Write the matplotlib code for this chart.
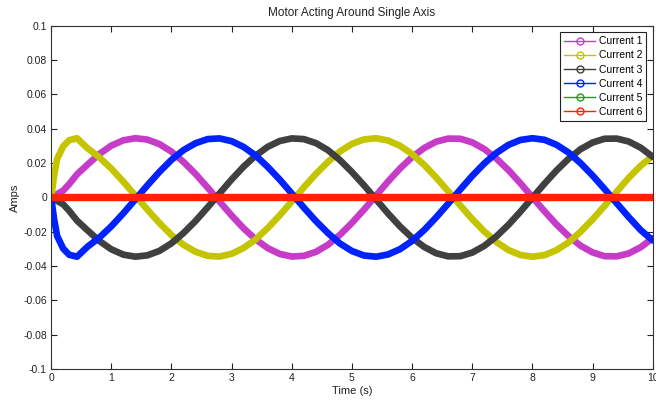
import matplotlib
matplotlib.use('Agg')
import matplotlib.pyplot as plt
from matplotlib.lines import Line2D
from matplotlib.ticker import FuncFormatter

# time samples (s), finer near the start-up transient
time = [0, 0.05, 0.1, 0.2, 0.3, 0.43,
        0.6, 0.8, 1.0, 1.2, 1.4, 1.6, 1.8, 2.0, 2.2, 2.4, 2.6, 2.8,
        3.0, 3.2, 3.4, 3.6, 3.8, 4.0, 4.2, 4.4, 4.6, 4.8, 5.0, 5.2,
        5.4, 5.6, 5.8, 6.0, 6.2, 6.4, 6.6, 6.8, 7.0, 7.2, 7.4, 7.6,
        7.8, 8.0, 8.2, 8.4, 8.6, 8.8, 9.0, 9.2, 9.4, 9.6, 9.8, 10.0]

current1 = [0, 0.0010, 0.0020, 0.0040, 0.0078, 0.0135,
            0.0190, 0.0253, 0.0302, 0.0333, 0.0345, 0.0337, 0.0311, 0.0267, 0.0207, 0.0137, 0.0058, -0.0024,
            -0.0105, -0.0180, -0.0244, -0.0295, -0.0329, -0.0344, -0.0340, -0.0317, -0.0276, -0.0218, -0.0148, -0.0071,
            0.0011, 0.0093, 0.0169, 0.0235, 0.0288, 0.0325, 0.0343, 0.0342, 0.0321, 0.0282, 0.0227, 0.0160,
            0.0083, 0.0001, -0.0080, -0.0157, -0.0225, -0.0281, -0.0320, -0.0342, -0.0343, -0.0326, -0.0290, -0.0237]

current2 = [0, 0.0130, 0.0225, 0.0298, 0.0334, 0.0345,
            0.0288, 0.0234, 0.0168, 0.0092, 0.0011, -0.0071, -0.0149, -0.0219, -0.0276, -0.0316, -0.0340, -0.0344,
            -0.0328, -0.0294, -0.0244, -0.0178, -0.0104, -0.0023, 0.0059, 0.0137, 0.0207, 0.0268, 0.0312, 0.0338,
            0.0345, 0.0332, 0.0301, 0.0253, 0.0190, 0.0116, 0.0036, -0.0046, -0.0126, -0.0198, -0.0259, -0.0306,
            -0.0335, -0.0345, -0.0336, -0.0307, -0.0262, -0.0200, -0.0128, -0.0049, 0.0033, 0.0114, 0.0185, 0.0242]

current3 = [0, -0.0010, -0.0020, -0.0040, -0.0078, -0.0135,
            -0.0190, -0.0253, -0.0302, -0.0333, -0.0345, -0.0337, -0.0311, -0.0267, -0.0207, -0.0137, -0.0058, 0.0024,
            0.0105, 0.0180, 0.0244, 0.0295, 0.0329, 0.0344, 0.0340, 0.0317, 0.0276, 0.0218, 0.0148, 0.0071,
            -0.0011, -0.0093, -0.0169, -0.0235, -0.0288, -0.0325, -0.0343, -0.0342, -0.0321, -0.0282, -0.0227, -0.0160,
            -0.0083, -0.0001, 0.0080, 0.0157, 0.0225, 0.0281, 0.0320, 0.0342, 0.0343, 0.0326, 0.0290, 0.0237]

current4 = [0, -0.0130, -0.0225, -0.0298, -0.0334, -0.0345,
            -0.0288, -0.0234, -0.0168, -0.0092, -0.0011, 0.0071, 0.0149, 0.0219, 0.0276, 0.0316, 0.0340, 0.0344,
            0.0328, 0.0294, 0.0244, 0.0178, 0.0104, 0.0023, -0.0059, -0.0137, -0.0207, -0.0268, -0.0312, -0.0338,
            -0.0345, -0.0332, -0.0301, -0.0253, -0.0190, -0.0116, -0.0036, 0.0046, 0.0126, 0.0198, 0.0259, 0.0306,
            0.0335, 0.0345, 0.0336, 0.0307, 0.0262, 0.0200, 0.0128, 0.0049, -0.0033, -0.0114, -0.0190, -0.0250]

current5 = [0] * len(time)
current6 = [0] * len(time)

labels = ['Current 1', 'Current 2', 'Current 3', 'Current 4', 'Current 5', 'Current 6']
colors = ['#C63CC8', '#C4C400', '#404040', '#0022FF', '#1E9E1E', '#FF2200']
widths = [4.8, 4.8, 4.8, 4.8, 5.2, 5.2]

plt.rcParams['font.family'] = ['Liberation Sans', 'DejaVu Sans']

fig = plt.figure(figsize=(6.56, 4.03), dpi=100)
ax = fig.add_axes([0.078, 0.084, 0.917, 0.852])

series = [current1, current2, current3, current4, current5, current6]
for vals, c, w in zip(series, colors, widths):
    ax.plot(time, vals, color=c, lw=w, solid_capstyle='round', solid_joinstyle='round')

ax.set_xlim(0, 10)
ax.set_ylim(-0.1, 0.1)
ax.set_xticks(range(0, 11))
ax.set_yticks([-0.1, -0.08, -0.06, -0.04, -0.02, 0, 0.02, 0.04, 0.06, 0.08, 0.1])
ax.yaxis.set_major_formatter(FuncFormatter(lambda v, p: '%g' % round(v, 2)))
ax.tick_params(direction='in', length=4, width=0.8, labelsize=7.5, colors='#222222',
               top=True, right=True, pad=3)
for s in ax.spines.values():
    s.set_color('#333333')
    s.set_linewidth(0.8)

ax.set_title('Motor Acting Around Single Axis', fontsize=8.5, color='#222222', pad=7)
ax.set_xlabel('Time (s)', fontsize=8, color='#222222', labelpad=2)
ax.set_ylabel('Amps', fontsize=8, color='#222222', labelpad=2)

handles = [Line2D([], [], color=c, lw=1, marker='o', mfc='none', ms=5, mew=1) for c in colors]
leg = ax.legend(handles, labels, loc='upper right', fontsize=7.5, frameon=True, fancybox=False,
                edgecolor='#222222', framealpha=1, borderpad=0.4, labelspacing=0.4,
                handlelength=3.0, handletextpad=0.35, borderaxespad=0.6)
leg.get_frame().set_linewidth(0.8)

fig.savefig('out.png', dpi=100, facecolor='white')
